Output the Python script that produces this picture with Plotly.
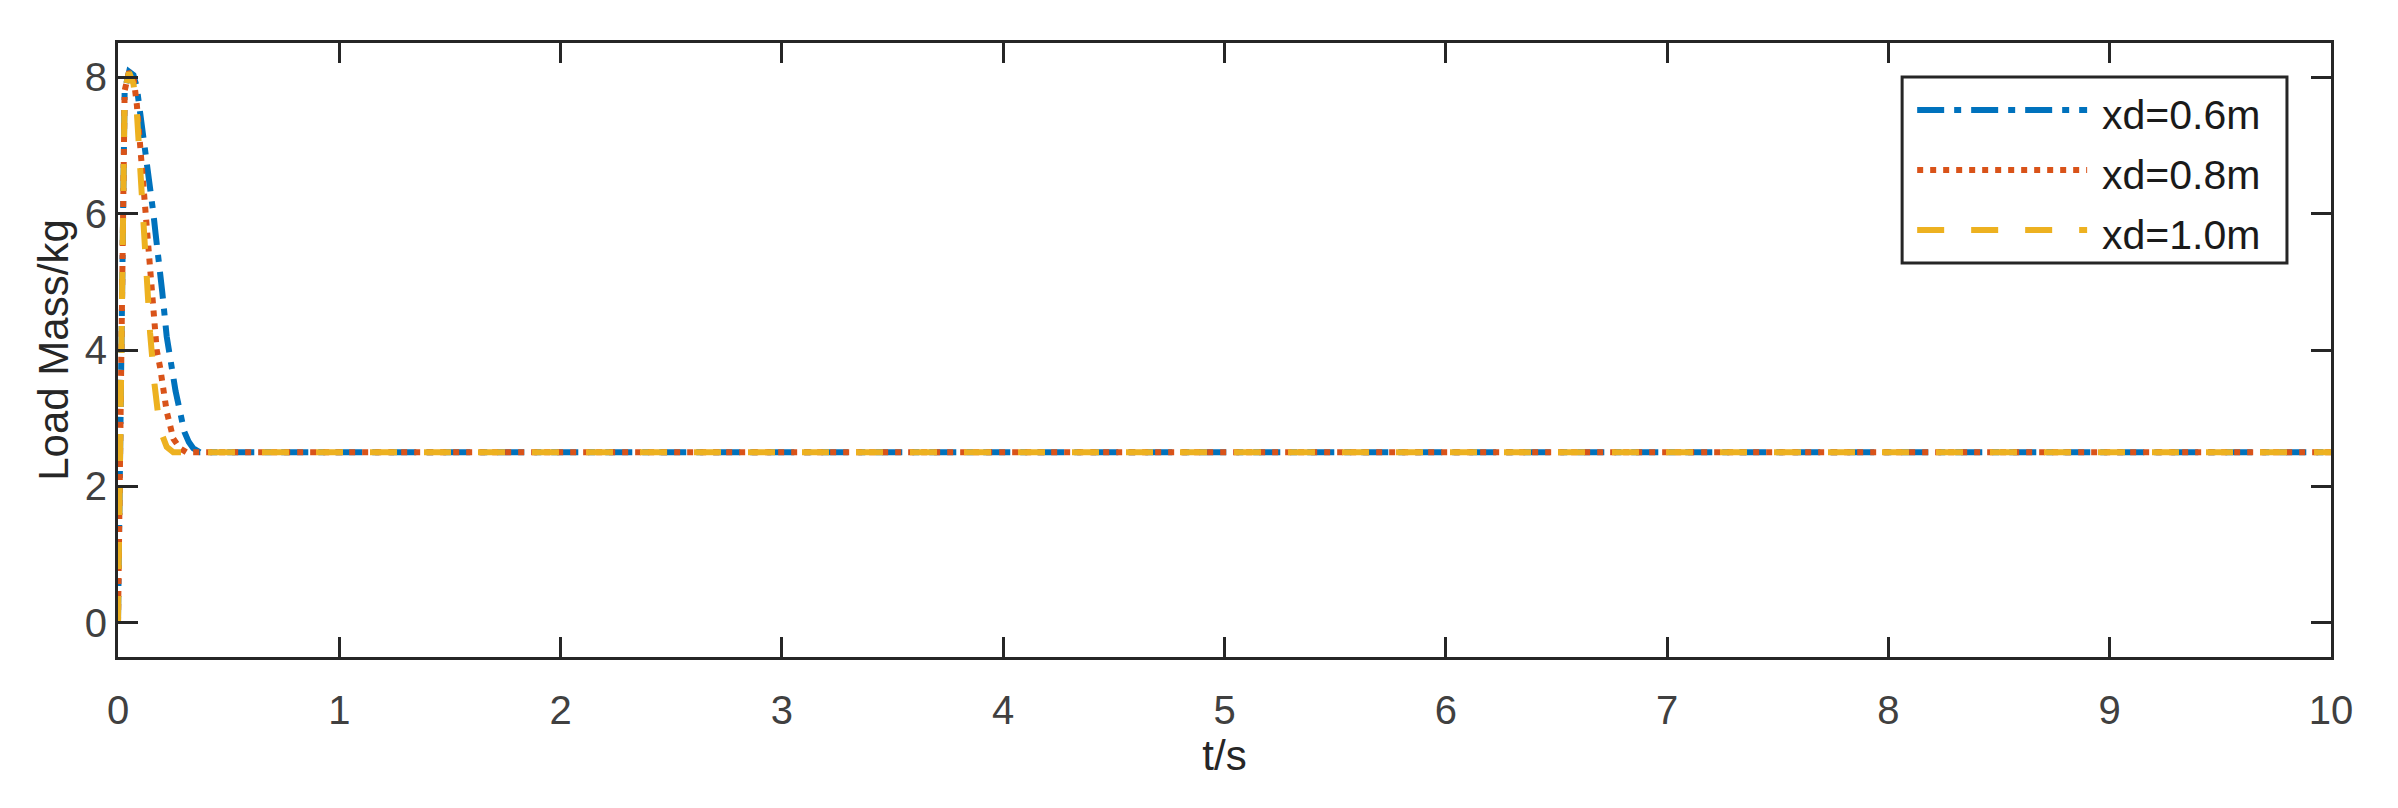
import plotly.graph_objects as go

# series (t in s, load mass in kg)
names = ["xd=0.6m", "xd=0.8m", "xd=1.0m"]

t_06 = [0, 0.01, 0.02, 0.03, 0.05, 0.07, 0.085, 0.1, 0.115, 0.13, 0.145, 0.16,
        0.17, 0.18, 0.2, 0.22, 0.235, 0.26, 0.28, 0.3, 0.32, 0.34, 0.37, 10]
m_06 = [0, 3.0, 6.0, 7.8, 8.08, 8.03, 7.85, 7.5, 7.1, 6.8, 6.4, 6.0,
        5.7, 5.35, 4.85, 4.2, 3.85, 3.4, 3.1, 2.8, 2.65, 2.56, 2.5, 2.5]

t_08 = [0, 0.01, 0.02, 0.03, 0.05, 0.07, 0.085, 0.1, 0.12, 0.13, 0.145, 0.16,
        0.175, 0.19, 0.21, 0.22, 0.25, 0.28, 0.31, 10]
m_08 = [0, 3.0, 6.0, 7.8, 8.08, 8.0, 7.6, 7.0, 6.3, 6.0, 5.4, 4.7,
        4.0, 3.75, 3.3, 3.1, 2.7, 2.56, 2.5, 2.5]

t_10 = [0, 0.01, 0.02, 0.03, 0.05, 0.07, 0.085, 0.1, 0.115, 0.13, 0.145, 0.165,
        0.185, 0.2, 0.22, 0.25, 10]
m_10 = [0, 3.0, 6.0, 7.8, 8.07, 7.9, 7.5, 6.6, 5.8, 5.0, 4.25, 3.5,
        2.95, 2.75, 2.58, 2.5, 2.5]

x_ticks = list(range(0, 11))
y_ticks = [0, 2, 4, 6, 8]

colors = ["#0072BD", "#D95319", "#EDB120"]
dashes = ["27px,10px,7px,10px", "6px,7px", "27px,27px"]
LW = 6
FONT = "Liberation Sans, Arial, sans-serif"
AX = "#262626"

fig = go.Figure()
for t, m, name, c, d in zip([t_06, t_08, t_10], [m_06, m_08, m_10], names, colors, dashes):
    fig.add_trace(go.Scatter(x=t, y=m, mode="lines", name=name,
                             line=dict(color=c, width=LW, dash=d), showlegend=False))

# hand-drawn legend box so the line samples are long like in the original
lx0, lx1, ly0, ly1 = 0.8062, 0.9801, 0.6417, 0.9446
fig.add_shape(type="rect", xref="paper", yref="paper", x0=lx0, x1=lx1, y0=ly0, y1=ly1,
              line=dict(color=AX, width=3), fillcolor="white", layer="above")
rows = [0.8909, 0.7932, 0.6954]
for yy, name, c, d in zip(rows, names, colors, dashes):
    fig.add_shape(type="line", xref="paper", yref="paper", x0=0.8130, x1=0.8898, y0=yy, y1=yy,
                  line=dict(color=c, width=LW, dash=d), layer="above")
    fig.add_annotation(xref="paper", yref="paper", x=0.8956, y=yy - 0.008, text=name,
                       showarrow=False, xanchor="left", yanchor="middle",
                       font=dict(family=FONT, size=41, color="#1a1a1a"))

axis_common = dict(showline=True, linecolor=AX, linewidth=3, mirror="ticks",
                   ticks="inside", ticklen=20, tickwidth=3, tickcolor=AX,
                   showgrid=False, zeroline=False,
                   tickfont=dict(family=FONT, size=40, color="#404040"))

fig.update_xaxes(range=[0, 10], tickvals=x_ticks, ticklabelstandoff=16,
                 title=dict(text="t/s", standoff=8, font=dict(family=FONT, size=42, color="#262626")),
                 **axis_common)
fig.update_yaxes(range=[-0.5, 8.5], tickvals=y_ticks,
                 title=dict(text="Load Mass/kg", standoff=4, font=dict(family=FONT, size=42, color="#262626")),
                 **axis_common)

# the page body adds 8px, so margins are shifted to land the axes on the reference pixels
fig.update_layout(width=2398, height=808, paper_bgcolor="white", plot_bgcolor="white",
                  margin=dict(l=110, r=75, t=35, b=159), font=dict(family=FONT))

fig.write_html("out.html")
